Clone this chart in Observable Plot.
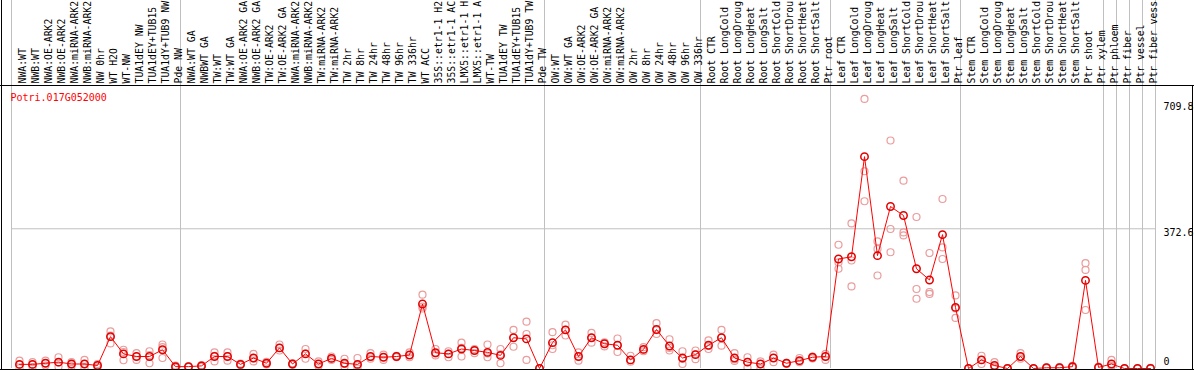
<!DOCTYPE html>
<html><head><meta charset="utf-8">
<script src="https://cdn.jsdelivr.net/npm/d3@7"></script>
<script src="https://cdn.jsdelivr.net/npm/@observablehq/plot@0.6"></script>
<style>body{margin:0;background:#fff}</style>
</head><body><div id="chart"></div>
<script>
const geneName = "Potri.017G052000";

const groupNW = ["NWA:WT","NWB:WT","NWA:OE-ARK2","NWB:OE-ARK2","NWA:miRNA-ARK2","NWB:miRNA-ARK2","NW 0hr","WT H2O","WT-NW","TUA1dEY NW","TUA1dEY+TUB15","TUA1dY+TUB9 NW","Pde NW"];
const groupTW = ["NWA:WT GA","NWBWT GA","TW:WT","TW:WT GA","NWA:OE-ARK2 GA","NWB:OE-ARK2 GA","TW:OE-ARK2","TW:OE-ARK2 GA","NWA:miRNA-ARK2","NWB:miRNA-ARK2","TW:miRNA-ARK2","TW:miRNA-ARK2","TW 2hr","TW 8hr","TW 24hr","TW 48hr","TW 96hr","TW 336hr","WT ACC","35S::etr1-1 H2","35S::etr1-1 AC","LMX5::etr1-1 H","LMX5::etr1-1 A","WT-TW","TUA1dEY TW","TUA1dEY+TUB15","TUA1dY+TUB9 TW","Pde TW"];
const groupOW = ["OW:WT","OW:WT GA","OW:OE-ARK2","OW:OE-ARK2 GA","OW:miRNA-ARK2","OW:miRNA-ARK2","OW 2hr","OW 8hr","OW 24hr","OW 48hr","OW 96hr","OW 336hr"];
const groupRoot = ["Root CTR","Root LongCold","Root LongDroug","Root LongHeat","Root LongSalt","Root ShortCold","Root ShortDrou","Root ShortHeat","Root ShortSalt","Ptr root"];
const groupLeaf = ["Leaf CTR","Leaf LongCold","Leaf LongDroug","Leaf LongHeat","Leaf LongSalt","Leaf ShortCold","Leaf ShortDrou","Leaf ShortHeat","Leaf ShortSalt","Ptr leaf"];
const groupStem = ["Stem CTR","Stem LongCold","Stem LongDroug","Stem LongHeat","Stem LongSalt","Stem ShortCold","Stem ShortDrou","Stem ShortHeat","Stem ShortSalt","Ptr shoot","Ptr xylem"];
const groupPhloem = ["Ptr phloem"];
const groupFiber = ["Ptr fiber"];
const groupVessel = ["Ptr vessel"];
const groupFiberVessel = ["Ptr fiber vess"];

const groups = [groupNW, groupTW, groupOW, groupRoot, groupLeaf, groupStem, groupPhloem, groupFiber, groupVessel, groupFiberVessel];

const means = [
  11,11,14,17,12,12,8,85,39,32,32,50,5,
  5,7,32,32,11,28,14,55,12,39,12,27,14,11,32,30,32,36,172,42,39,52,48,43,35,82,79,0,
  69,103,32,82,66,62,23,51,104,60,28,37,
  62,82,28,17,12,28,14,21,30,32,
  292,298,565,301,432,408,266,236,357,163,
  0,23,8,0,32,0,2,2,5,235,3,
  12,0,0,0
];
const rep1 = [
  21,17,21,30,17,23,12,99,50,41,46,64,8,
  6,9,43,43,13,39,18,64,14,52,19,32,26,28,41,37,34,43,197,52,46,69,52,64,52,103,125,0,
  97,117,43,95,70,80,34,57,121,78,46,48,
  75,103,41,30,19,37,15,28,32,39,
  330,387,719,339,608,501,404,308,452,195,
  0,34,17,1,41,0,3,4,7,281,5,
  23,0,0,2
];
const rep2 = [
  10,10,8,16,11,12,8,88,44,32,36,57,5,
  4,7,34,33,10,27,13,55,12,40,12,27,12,8,30,30,32,36,165,40,39,55,48,40,38,82,92,0,
  62,103,32,82,66,62,22,50,102,55,26,38,
  60,82,24,18,12,28,14,20,30,32,
  283,288,526,319,372,363,212,204,323,160,
  0,23,5,0,30,0,2,2,5,263,3,
  8,0,0,0
];
const rep3 = [
  1,4,14,5,6,1,3,67,22,23,14,28,2,
  4,5,19,21,9,19,11,48,10,26,7,23,5,0,26,23,30,30,160,35,30,32,41,30,14,58,23,0,
  52,88,21,69,59,44,18,46,92,48,12,25,
  52,61,20,2,0,17,13,17,27,23,
  266,219,446,248,310,355,186,199,292,135,
  0,12,2,0,26,0,1,1,3,156,2,
  6,0,0,0
];

const yTickValues = [0, 372.6, 709.8];
const yTickLabels = ["0", "372.6", "709.8"];
const yDomainMax = 752;

const labels = groups.flat();
const data = labels.map((label, i) => ({i, label, mean: means[i]}));
const reps = [];
labels.forEach((label, i) => { [rep1[i], rep2[i], rep3[i]].forEach(v => reps.push({i, v})); });
const boundaries = [0];
groups.forEach(g => boundaries.push(boundaries[boundaries.length - 1] + g.length));

const W = 1194, H = 370, mTop = 86, mBottom = 2, mLeft = 11, mRight = 39;
const yTopValue = yDomainMax * (H - mBottom) / (H - mTop - mBottom);
const font = "DejaVu Sans Mono";
const pink = "#eb9c9c";

const chart = Plot.plot({
  width: W, height: H,
  marginTop: mTop, marginBottom: mBottom, marginLeft: mLeft, marginRight: mRight,
  style: {fontFamily: font, fontSize: "10px", background: "#fff"},
  x: {type: "linear", domain: [0, labels.length], axis: null},
  y: {type: "linear", domain: [0, yDomainMax], axis: null},
  marks: [
    Plot.ruleY([yTickValues[1]], {stroke: "#c0c0c0", strokeWidth: 1}),
    Plot.ruleX(boundaries, {y1: 0, y2: yTopValue, stroke: "#c0c0c0", strokeWidth: 1}),
    Plot.text(data, {x: d => d.i + 0.5, text: "label", frameAnchor: "top", dx: 1.5, dy: -3, rotate: -90, textAnchor: "start", fill: "#000", fontFamily: font, fontSize: 9.8}),
    Plot.dot(reps, {x: d => d.i + 0.5, y: "v", dx: 1.5, r: 3.5, stroke: pink, strokeWidth: 1.2, fill: "none"}),
    Plot.line(data, {x: d => d.i + 0.5, y: "mean", dx: 1.5, stroke: "#ff0000", strokeWidth: 1}),
    Plot.dot(data, {x: d => d.i + 0.5, y: "mean", dx: 1.5, r: 3.7, stroke: "#e00000", strokeWidth: 1.5, fill: "none"}),
    Plot.text([geneName], {text: d => d, frameAnchor: "top-left", dx: -1, dy: 7, lineAnchor: "top", textAnchor: "start", fill: "#ff0000", fontFamily: font, fontSize: 10}),
    Plot.text(yTickValues.map((v, k) => ({v, t: yTickLabels[k]})).filter(d => d.v > 0), {y: "v", text: "t", frameAnchor: "right", dx: 8, dy: 4, textAnchor: "start", fill: "#000", fontFamily: font, fontSize: 10}),
    Plot.text(yTickValues.map((v, k) => ({v, t: yTickLabels[k]})).filter(d => d.v === 0), {y: "v", text: "t", frameAnchor: "right", dx: 8, dy: -7, textAnchor: "start", fill: "#000", fontFamily: font, fontSize: 10})
  ]
});

const svg = d3.select(chart);
const g = svg.append("g").attr("stroke", "#000").attr("stroke-width", 1);
g.append("line").attr("x1", 0).attr("x2", W).attr("y1", mTop - 0.5).attr("y2", mTop - 0.5);
g.append("line").attr("x1", 1.5).attr("x2", 1.5).attr("y1", 0).attr("y2", H);
g.append("line").attr("x1", 0).attr("x2", W).attr("y1", H - 0.5).attr("y2", H - 0.5);
g.append("line").attr("x1", W - 1.5).attr("x2", W - 1.5).attr("y1", mTop - 1).attr("y2", H);

document.getElementById("chart").appendChild(chart);
</script>
</body></html>
